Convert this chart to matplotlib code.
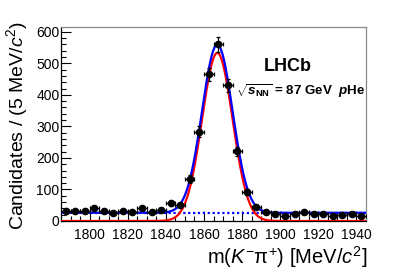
import numpy as np
import matplotlib
matplotlib.use("Agg")
import matplotlib.pyplot as plt
from matplotlib.ticker import MultipleLocator

plt.rcParams['font.family'] = ['Liberation Sans', 'DejaVu Sans']
plt.rcParams['mathtext.fontset'] = 'custom'
plt.rcParams['mathtext.rm'] = 'Liberation Sans'
plt.rcParams['mathtext.it'] = 'Liberation Sans:italic'
plt.rcParams['mathtext.bf'] = 'Liberation Sans:bold'
plt.rcParams['mathtext.bfit'] = 'Liberation Sans:italic:bold'

# ---- data (5 MeV bins) ----
bin_centers = [1787.5, 1792.5, 1797.5, 1802.5, 1807.5, 1812.5, 1817.5, 1822.5,
               1827.5, 1832.5, 1837.5, 1842.5, 1847.5, 1852.5, 1857.5, 1862.5,
               1867.5, 1872.5, 1877.5, 1882.5, 1887.5, 1892.5, 1897.5, 1902.5,
               1907.5, 1912.5, 1917.5, 1922.5, 1927.5, 1932.5, 1937.5, 1942.5]
counts = [33, 33, 31, 41, 32, 25, 32, 28, 40, 28, 35, 56, 50, 133, 283, 465,
          561, 430, 221, 92, 44, 29, 22, 15, 23, 29, 21, 22, 15, 19, 23, 15]
bin_half_width = 2.5

# ---- fit model parameters ----
sig_mean = 1867.0
sig_sigma = 8.0
sig_peak = 533.0
bkg_level = 26.0

xlim = (1785, 1945)
ylim = (0, 615)

fig = plt.figure(figsize=(4.07, 2.76), dpi=100)
ax = fig.add_axes([61/407, 1-221/276, 305/407, 194/276])

xs = np.linspace(xlim[0], xlim[1], 800)
sig = sig_peak*np.exp(-0.5*((xs-sig_mean)/sig_sigma)**2)
bkg = np.full_like(xs, bkg_level)

ax.plot(xs, bkg, color='#0000ff', lw=1.6, ls=(0, (1, 1.2)), zorder=2)
ax.plot(xs, sig, color='#ff0000', lw=1.6, zorder=3)
ax.plot(xs, sig+bkg, color='#0000ff', lw=1.6, zorder=4)

c = np.array(counts, dtype=float)
ax.errorbar(bin_centers, c, yerr=np.sqrt(c), xerr=bin_half_width, fmt='o',
            color='black', ms=4.5, elinewidth=0.9, capsize=1.2, capthick=0.9,
            zorder=5)

ax.set_xlim(*xlim)
ax.set_ylim(*ylim)

ax.xaxis.set_major_locator(MultipleLocator(20))
ax.xaxis.set_minor_locator(MultipleLocator(5))
ax.yaxis.set_major_locator(MultipleLocator(100))
ax.yaxis.set_minor_locator(MultipleLocator(20))
ax.tick_params(which='both', direction='in', top=False, right=False,
               labelsize=10, width=0.8)
ax.tick_params(which='major', length=7)
ax.tick_params(which='minor', length=3.5)
ax.tick_params(axis='y', pad=1)
ax.tick_params(axis='x', pad=5)

for s in ['left', 'bottom']:
    ax.spines[s].set_color('black')
    ax.spines[s].set_linewidth(0.9)
for s in ['top', 'right']:
    ax.spines[s].set_color('#888888')
    ax.spines[s].set_linewidth(0.9)

fig.text(17/407, 1-21/276, 'Candidates / (5 MeV/$c^{2}$)', rotation=90,
         ha='center', va='top', fontsize=14)
fig.text(367/407, 1-257/276, r'm($K^{-}\mathrm{\pi}^{+}$) [MeV/$c^{2}$]',
         ha='right', va='center', fontsize=14.5)

ax.text(0.745, 0.795, 'LHCb', transform=ax.transAxes, ha='center', va='center',
        fontsize=13, fontweight='bold')
ax.text(0.574, 0.67, r'$\sqrt{\mathbfit{s}_{\mathbf{NN}}}$ = 87 GeV  $\mathbfit{p}$He',
        transform=ax.transAxes, ha='left', va='center', fontsize=9.6,
        fontweight='bold')

fig.savefig('out.png', dpi=100)
